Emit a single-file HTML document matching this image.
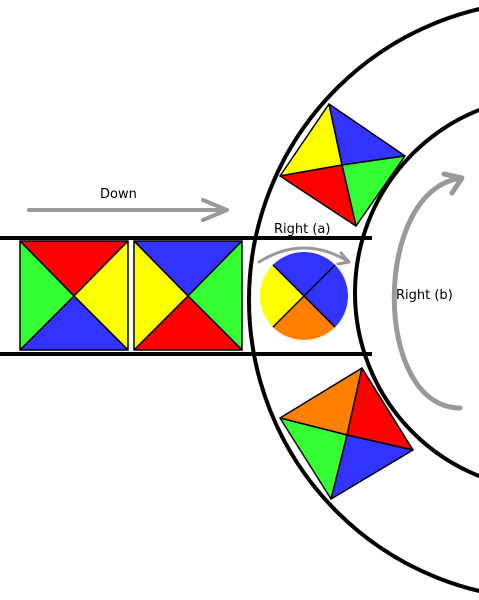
<!DOCTYPE html>
<html><head><meta charset="utf-8"><style>
html,body{margin:0;padding:0;background:#fff;width:479px;height:600px;overflow:hidden}
svg{display:block}
text{font-family:"DejaVu Sans","Liberation Sans",sans-serif;font-size:13px;fill:#000}
</style></head><body>
<svg width="479" height="600" viewBox="0 0 479 600">
<g fill="none" stroke="#000" stroke-width="4">
  <circle cx="548" cy="300" r="299"/>
</g>
<g stroke="#000" stroke-width="4">
  <line x1="0" y1="238" x2="372" y2="238"/>
  <line x1="0" y1="354" x2="372" y2="354"/>
</g>
<g stroke="#000" stroke-width="1.5" stroke-linejoin="round">
  <polygon points="20,241 128,241 74,296" fill="#ff0000"/>
  <polygon points="128,241 128,350 74,296" fill="#ffff00"/>
  <polygon points="20,350 128,350 74,296" fill="#3333ff"/>
  <polygon points="20,241 20,350 74,296" fill="#33ff33"/>
</g>
<g stroke="#000" stroke-width="1.5" stroke-linejoin="round">
  <polygon points="134,241 242,241 188,296" fill="#3333ff"/>
  <polygon points="242,241 242,350 188,296" fill="#33ff33"/>
  <polygon points="134,350 242,350 188,296" fill="#ff0000"/>
  <polygon points="134,241 134,350 188,296" fill="#ffff00"/>
</g>
<g stroke="#000" stroke-width="1.5" stroke-linejoin="round">
  <polygon points="329,104 280,176 342,165" fill="#ffff00"/>
  <polygon points="329,104 405,156 342,165" fill="#3333ff"/>
  <polygon points="405,156 356,226 342,165" fill="#33ff33"/>
  <polygon points="280,176 356,226 342,165" fill="#ff0000"/>
</g>
<g stroke="#000" stroke-width="1.5" stroke-linejoin="round">
  <polygon points="362,368 280,418 347,435" fill="#ff8000"/>
  <polygon points="362,368 413,450 347,435" fill="#ff0000"/>
  <polygon points="413,450 331,499 347,435" fill="#3333ff"/>
  <polygon points="280,418 331,499 347,435" fill="#33ff33"/>
</g>
<g fill="none" stroke="#000" stroke-width="4">
  <circle cx="552" cy="293" r="197"/>
</g>
<g id="disc"></g>
<g fill="none" stroke="#999" stroke-width="4" stroke-linecap="round" stroke-linejoin="round">
  <path d="M29,210 L227,210 M203,200 L227,210 L203,220"/>
  <path stroke-width="3" d="M259,262 Q304,234 349,262 M341,253 L349,262 L338,264"/>
  <path stroke-width="5" d="M460,408 C372,408 372,188 462,178 M444,174 L462,178 L452,193"/>
</g>
<text x="100" y="198">Down</text>
<text x="274" y="233">Right (a)</text>
<text x="396" y="299">Right (b)</text>
</svg>
<script>
const quadColors = ["#3333ff","#3333ff","#ff8000","#ffff00"]; // top, right, bottom, left
const cx=304, cy=296, r=44, ns="http://www.w3.org/2000/svg";
const g=document.getElementById('disc');
quadColors.forEach((c,i)=>{
  const a0=(-135+90*i)*Math.PI/180, a1=(-45+90*i)*Math.PI/180;
  const p=document.createElementNS(ns,'path');
  p.setAttribute('d',`M${cx},${cy} L${cx+r*Math.cos(a0)},${cy+r*Math.sin(a0)} A${r},${r} 0 0 1 ${cx+r*Math.cos(a1)},${cy+r*Math.sin(a1)} Z`);
  p.setAttribute('fill',c);
  p.setAttribute('stroke','none');
  
  
  g.appendChild(p);
});
[[-135,45],[-45,135]].forEach(([a,b])=>{
  const l=document.createElementNS(ns,'line');
  l.setAttribute('x1',cx+r*Math.cos(a*Math.PI/180));l.setAttribute('y1',cy+r*Math.sin(a*Math.PI/180));
  l.setAttribute('x2',cx+r*Math.cos(b*Math.PI/180));l.setAttribute('y2',cy+r*Math.sin(b*Math.PI/180));
  l.setAttribute('stroke','#000');l.setAttribute('stroke-width','1.5');
  
  
  g.appendChild(l);
});
</script>
</body></html>
